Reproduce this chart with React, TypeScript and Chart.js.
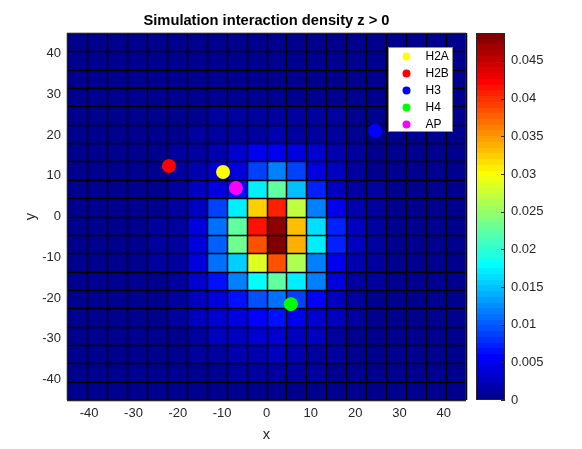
import { useEffect, useRef } from "react";
import { Chart, registerables } from "chart.js";

Chart.register(...registerables);

const FONT = "'Liberation Sans', Arial, Helvetica, sans-serif";
const AXIS_COLOR = "#262626";

// cell edges of the density grid
const xEdges = [-45, -40.5, -36, -31.5, -27, -22.5, -18, -13.5, -9, -4.5, 0, 4.5, 9, 13.5, 18, 22.5, 27, 31.5, 36, 40.5, 45];
const yEdges = [45, 40.5, 36, 31.5, 27, 22.5, 18, 13.5, 9, 4.5, 0, -4.5, -9, -13.5, -18, -22.5, -27, -31.5, -36, -40.5, -45];

// interaction density, top row first, in units of 1e-3
const density = [
  [0.5, 0.5, 0.5, 0.5, 0.5, 0.5, 0.5, 0.5, 0.5, 0.5, 0.5, 0.5, 0.5, 0.5, 0.5, 0.5, 0.5, 0.5, 0.5, 0.5],
  [0.5, 0.5, 0.5, 0.5, 0.5, 0.5, 0.5, 0.5, 0.5, 0.5, 0.5, 0.5, 0.5, 0.5, 0.5, 0.5, 0.5, 0.5, 0.5, 0.5],
  [0.5, 0.5, 0.5, 0.5, 0.5, 0.5, 0.5, 0.5, 0.5, 0.5, 0.5, 0.5, 0.5, 0.5, 0.5, 0.5, 0.5, 0.5, 0.5, 0.5],
  [0.5, 0.5, 0.5, 0.5, 0.5, 0.5, 0.5, 0.6, 0.7, 0.7, 0.7, 0.7, 0.7, 0.6, 0.5, 0.5, 0.5, 0.5, 0.5, 0.5],
  [0.5, 0.5, 0.5, 0.5, 0.5, 0.5, 0.6, 0.8, 0.9, 0.9, 1.0, 0.9, 0.9, 0.8, 0.6, 0.5, 0.5, 0.5, 0.5, 0.5],
  [0.5, 0.5, 0.5, 0.5, 0.5, 0.6, 0.8, 0.9, 1.2, 1.5, 1.8, 1.5, 1.2, 0.9, 0.7, 0.5, 0.5, 0.5, 0.5, 0.5],
  [0.5, 0.5, 0.5, 0.5, 0.6, 0.8, 1.2, 2.0, 3.4, 5.0, 4.6, 4.4, 3.2, 1.8, 0.9, 0.6, 0.5, 0.5, 0.5, 0.5],
  [0.5, 0.5, 0.5, 0.5, 0.6, 0.9, 2.2, 3.5, 4.2, 8.5, 11.5, 9.0, 4.3, 2.4, 1.2, 0.7, 0.5, 0.5, 0.5, 0.5],
  [0.5, 0.5, 0.5, 0.5, 0.7, 1.0, 2.4, 4.3, 6.7, 17.0, 22.4, 15.2, 7.0, 3.0, 1.5, 0.8, 0.5, 0.5, 0.5, 0.5],
  [0.5, 0.5, 0.5, 0.5, 0.7, 1.2, 2.6, 9.0, 17.0, 32.1, 40.6, 27.3, 12.1, 4.6, 1.8, 0.9, 0.5, 0.5, 0.5, 0.5],
  [0.5, 0.5, 0.5, 0.5, 0.8, 1.5, 4.3, 10.9, 22.4, 41.8, 47.3, 33.3, 16.4, 7.3, 2.4, 0.9, 0.6, 0.5, 0.5, 0.5],
  [0.5, 0.5, 0.5, 0.5, 0.8, 1.5, 4.3, 10.6, 23.0, 38.8, 48.7, 34.0, 17.0, 7.6, 2.4, 0.9, 0.6, 0.5, 0.5, 0.5],
  [0.5, 0.5, 0.5, 0.5, 0.8, 1.5, 4.3, 10.9, 15.8, 28.5, 38.2, 26.1, 12.1, 4.9, 1.8, 0.9, 0.5, 0.5, 0.5, 0.5],
  [0.5, 0.5, 0.5, 0.5, 0.7, 1.2, 3.7, 6.5, 12.1, 17.6, 22.4, 17.0, 11.5, 4.0, 1.5, 0.8, 0.5, 0.5, 0.5, 0.5],
  [0.5, 0.5, 0.5, 0.5, 0.6, 1.0, 3.0, 4.3, 6.1, 9.7, 10.9, 9.1, 5.5, 3.0, 1.2, 0.7, 0.5, 0.5, 0.5, 0.5],
  [0.5, 0.5, 0.5, 0.5, 0.6, 0.8, 2.4, 3.7, 4.3, 5.5, 6.5, 4.9, 3.7, 2.4, 0.9, 0.6, 0.5, 0.5, 0.5, 0.5],
  [0.5, 0.5, 0.5, 0.5, 0.5, 0.7, 1.2, 2.4, 3.0, 3.7, 3.7, 3.0, 2.4, 1.2, 0.7, 0.5, 0.5, 0.5, 0.5, 0.5],
  [0.5, 0.5, 0.5, 0.5, 0.5, 0.6, 0.8, 1.2, 1.8, 2.2, 2.4, 2.0, 1.5, 0.8, 0.6, 0.5, 0.5, 0.5, 0.5, 0.5],
  [0.5, 0.5, 0.5, 0.5, 0.5, 0.5, 0.6, 0.7, 1.0, 1.0, 1.0, 1.0, 0.8, 0.6, 0.5, 0.5, 0.5, 0.5, 0.5, 0.5],
  [0.5, 0.5, 0.5, 0.5, 0.5, 0.5, 0.5, 0.5, 0.5, 0.5, 0.5, 0.5, 0.5, 0.5, 0.5, 0.5, 0.5, 0.5, 0.5, 0.5],
];

// marked positions
const siteLabels = ["H2A", "H2B", "H3", "H4", "AP"];
const siteColors = ["#ffff00", "#ff0000", "#0000ff", "#00ff00", "#ff00ff"];
const siteX = [-9.8, -22.0, 24.5, 5.5, -6.9];
const siteY = [10.9, 12.4, 21.0, -21.5, 7.0];

const xTicks = [-40, -30, -20, -10, 0, 10, 20, 30, 40];
const yTicks = [-40, -30, -20, -10, 0, 10, 20, 30, 40];
const cbMax = 0.0487;
const cbTicks = [0, 0.005, 0.01, 0.015, 0.02, 0.025, 0.03, 0.035, 0.04, 0.045];
const cbTickLabels = ["0", "0.005", "0.01", "0.015", "0.02", "0.025", "0.03", "0.035", "0.04", "0.045"];

// MATLAB jet(64) entry for a level 1..64
function jetColor(level: number) {
  const s = level / 64;
  const c = (v: number) => Math.round(Math.max(0, Math.min(1, v)) * 255);
  const r = c(1.5 - Math.abs(4 * s - 3));
  const g = c(1.5 - Math.abs(4 * s - 2));
  const b = c(1.5 - Math.abs(4 * s - 1));
  return `rgb(${r},${g},${b})`;
}

function levelFor(value: number) {
  return Math.min(64, Math.max(1, Math.floor((value / cbMax) * 64) + 1));
}

const heatmapPlugin = {
  id: "heatmap",
  beforeDatasetsDraw(chart: any) {
    const { ctx, chartArea, scales } = chart;
    const xs = scales.x;
    const ys = scales.y;
    ctx.save();
    for (let j = 0; j < density.length; j++) {
      const y0 = Math.round(ys.getPixelForValue(yEdges[j]));
      const y1 = Math.round(ys.getPixelForValue(yEdges[j + 1]));
      for (let i = 0; i < density[j].length; i++) {
        const x0 = Math.round(xs.getPixelForValue(xEdges[i]));
        const x1 = Math.round(xs.getPixelForValue(xEdges[i + 1]));
        ctx.fillStyle = jetColor(levelFor(density[j][i] * 1e-3));
        ctx.fillRect(x0, y0, x1 - x0, y1 - y0);
      }
    }
    // cell edges
    ctx.strokeStyle = "#000";
    ctx.lineWidth = 1.5;
    ctx.beginPath();
    for (const xe of xEdges) {
      const px = Math.round(xs.getPixelForValue(xe)) + 0.5;
      ctx.moveTo(px, chartArea.top);
      ctx.lineTo(px, chartArea.bottom);
    }
    for (const ye of yEdges) {
      const py = Math.round(ys.getPixelForValue(ye)) + 0.5;
      ctx.moveTo(chartArea.left, py);
      ctx.lineTo(chartArea.right, py);
    }
    ctx.stroke();
    ctx.lineWidth = 1;
    ctx.strokeStyle = AXIS_COLOR;
    ctx.strokeRect(
      Math.round(chartArea.left) + 0.5,
      Math.round(chartArea.top) + 0.5,
      Math.round(chartArea.right - chartArea.left) - 1,
      Math.round(chartArea.bottom - chartArea.top)
    );
    ctx.restore();
  },
};

const colorbarPlugin = {
  id: "colorbar",
  afterDraw(chart: any) {
    const { ctx, chartArea, scales } = chart;
    const cb = scales.cb;
    const x0 = Math.round(chartArea.right) + 10;
    const x1 = x0 + 29;
    ctx.save();
    for (let k = 0; k < 64; k++) {
      const yb = Math.round(cb.getPixelForValue((k / 64) * cbMax));
      const yt = Math.round(cb.getPixelForValue(((k + 1) / 64) * cbMax));
      ctx.fillStyle = jetColor(k + 1);
      ctx.fillRect(x0, yt, x1 - x0, yb - yt);
    }
    const top = Math.round(cb.getPixelForValue(cbMax));
    const bottom = Math.round(cb.getPixelForValue(0));
    ctx.strokeStyle = AXIS_COLOR;
    ctx.lineWidth = 1;
    ctx.strokeRect(x0 + 0.5, top + 0.5, x1 - x0 - 1, bottom - top - 1);
    ctx.beginPath();
    for (const v of cbTicks) {
      const py = Math.round(cb.getPixelForValue(v)) + 0.5;
      ctx.moveTo(x1 - 4, py);
      ctx.lineTo(x1, py);
    }
    ctx.stroke();
    ctx.restore();
  },
};

const legendPlugin = {
  id: "boxLegend",
  afterDatasetsDraw(chart: any) {
    const { ctx, chartArea } = chart;
    const w = 65;
    const h = 85;
    const left = Math.round(chartArea.right) - 13 - w;
    const top = Math.round(chartArea.top) + 14;
    ctx.save();
    ctx.fillStyle = "#fff";
    ctx.fillRect(left, top, w, h);
    ctx.strokeStyle = "#8c8c8c";
    ctx.lineWidth = 1;
    ctx.strokeRect(left + 0.5, top + 0.5, w - 1, h - 1);
    ctx.font = `12px ${FONT}`;
    ctx.textBaseline = "middle";
    ctx.textAlign = "left";
    chart.data.datasets.forEach((ds: any, k: number) => {
      const cy = top + 9.5 + k * 17;
      ctx.beginPath();
      ctx.fillStyle = ds.backgroundColor;
      ctx.arc(left + 18.5, cy, 4, 0, Math.PI * 2);
      ctx.fill();
      ctx.fillStyle = "#000";
      ctx.fillText(ds.label, left + 37.5, cy + 0.5);
    });
    ctx.restore();
  },
};

export default function App() {
  const canvasRef = useRef<HTMLCanvasElement>(null);

  useEffect(() => {
    if (!canvasRef.current) return;

    const chart = new Chart(canvasRef.current, {
      type: "scatter",
      data: {
        datasets: siteLabels.map((label, k) => ({
          label,
          data: [{ x: siteX[k], y: siteY[k] }],
          backgroundColor: siteColors[k],
          borderWidth: 0,
          pointRadius: 7,
          pointHoverRadius: 7,
          xAxisID: "x",
          yAxisID: "y",
        })),
      },
      options: {
        responsive: true,
        maintainAspectRatio: false,
        animation: false,
        devicePixelRatio: 1,
        layout: { padding: 0 },
        plugins: {
          legend: { display: false },
          title: { display: false },
          tooltip: { enabled: false },
        },
        scales: {
          x: {
            type: "linear",
            position: "bottom",
            min: -45,
            max: 45,
            afterBuildTicks: (s: any) => {
              s.ticks = xTicks.map((value) => ({ value }));
            },
            afterFit: (s: any) => {
              s.height = 49;
            },
            grid: { display: false, drawTicks: false },
            border: { display: false },
            ticks: {
              padding: 6,
              color: AXIS_COLOR,
              font: { family: FONT, size: 13 },
              maxRotation: 0,
              autoSkip: false,
            },
            title: {
              display: true,
              text: "x",
              color: AXIS_COLOR,
              font: { family: FONT, size: 14.7 },
              padding: { top: 0, bottom: 5 },
            },
          },
          xTop: {
            type: "linear",
            position: "top",
            min: -45,
            max: 45,
            afterFit: (s: any) => {
              s.height = 33;
            },
            grid: { display: false, drawTicks: false },
            border: { display: false },
            ticks: { display: false },
            title: {
              display: true,
              text: "Simulation interaction density z > 0",
              color: "#000",
              font: { family: FONT, size: 14.7, weight: "bold" },
              padding: { top: 12.5, bottom: 0 },
            },
          },
          y: {
            type: "linear",
            position: "left",
            min: -45,
            max: 45,
            afterBuildTicks: (s: any) => {
              s.ticks = yTicks.map((value) => ({ value }));
            },
            afterFit: (s: any) => {
              s.width = 67;
            },
            grid: { display: false, drawTicks: false },
            border: { display: false },
            ticks: {
              padding: 6,
              color: AXIS_COLOR,
              font: { family: FONT, size: 13 },
              autoSkip: false,
            },
            title: {
              display: true,
              text: "y",
              color: AXIS_COLOR,
              font: { family: FONT, size: 14.7 },
              padding: { top: 22, bottom: 0 },
            },
          },
          cb: {
            type: "linear",
            position: "right",
            min: 0,
            max: cbMax,
            afterBuildTicks: (s: any) => {
              s.ticks = cbTicks.map((value) => ({ value }));
            },
            afterFit: (s: any) => {
              s.width = 116;
            },
            // invisible tick marks leave room for the colour bar
            grid: {
              display: true,
              drawOnChartArea: false,
              drawTicks: true,
              tickLength: 40,
              color: "rgba(0,0,0,0)",
            },
            border: { display: false },
            ticks: {
              padding: 5,
              color: AXIS_COLOR,
              font: { family: FONT, size: 13 },
              autoSkip: false,
              callback: (_v: any, i: number) => cbTickLabels[i],
            },
          },
        },
      },
      plugins: [heatmapPlugin, legendPlugin, colorbarPlugin],
    });

    return () => {
      chart.destroy();
    };
  }, []);

  return (
    <div
      style={{
        position: "fixed",
        left: 0,
        top: 0,
        width: 582,
        height: 449,
        background: "#fff",
      }}
    >
      <canvas ref={canvasRef} />
    </div>
  );
}
